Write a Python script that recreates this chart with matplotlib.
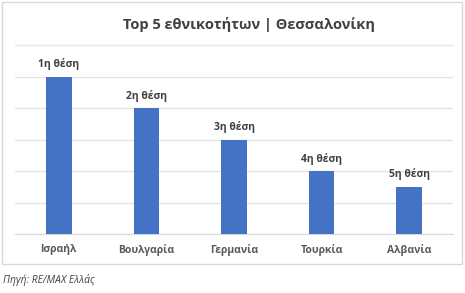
import matplotlib
matplotlib.use("Agg")
import matplotlib.pyplot as plt
from matplotlib.patches import Rectangle
from matplotlib.lines import Line2D

countries = ["Ισραήλ", "Βουλγαρία", "Γερμανία", "Τουρκία", "Αλβανία"]
ranks = [5, 4, 3, 2, 1.5]
rank_labels = ["1η θέση", "2η θέση", "3η θέση", "4η θέση", "5η θέση"]

plt.rcParams['font.family'] = ['Open Sans', 'DejaVu Sans']

fig = plt.figure(figsize=(4.65, 2.93), dpi=100)
W, H = 465, 293

# outer frame and title separator
fig.add_artist(Rectangle((2 / W, 1 - 264 / H), 460 / W, 262 / H, transform=fig.transFigure,
                         fill=False, edgecolor="#D9D9D9", linewidth=1))
fig.add_artist(Line2D([15 / W, 453 / W], [1 - 45 / H, 1 - 45 / H], transform=fig.transFigure,
                      color="#E6E6E6", linewidth=1))
fig.text(249 / W, 1 - 24 / H, "Top 5 εθνικοτήτων | Θεσσαλονίκη", ha="center", va="center",
         fontsize=10.5, fontweight="bold", color="#404040")
fig.text(3 / W, 1 - 280 / H, "Πηγή: RE/MAX Ελλάς", ha="left", va="center",
         fontsize=7.4, style="italic", color="#404040")

ax = fig.add_axes([15 / W, 1 - 234 / H, 438 / W, 157 / H])
x = range(len(countries))
bars = ax.bar(x, ranks, width=0.29, color="#4472C4", zorder=3)
for b, lab in zip(bars, rank_labels):
    ax.annotate(lab, (b.get_x() + b.get_width() / 2, b.get_height()), xytext=(0, 9),
                textcoords="offset points", ha="center", va="center", fontsize=7.5,
                fontweight="bold", color="#404040", annotation_clip=False)

ax.set_xlim(-0.5, len(countries) - 0.5)
ax.set_ylim(0, 5)
ax.set_yticks([0, 1, 2, 3, 4, 5])
ax.set_yticklabels([])
ax.yaxis.grid(True, color="#E3E3E3", linewidth=1, zorder=0)
ax.tick_params(axis="y", length=0)
ax.tick_params(axis="x", length=0, pad=7)
ax.set_xticks(list(x))
ax.set_xticklabels(countries, fontsize=7.5, fontweight="bold", color="#595959")
for s in ["top", "right", "left"]:
    ax.spines[s].set_visible(False)
ax.spines["bottom"].set_color("#D9D9D9")

fig.savefig("out.png", dpi=100)
